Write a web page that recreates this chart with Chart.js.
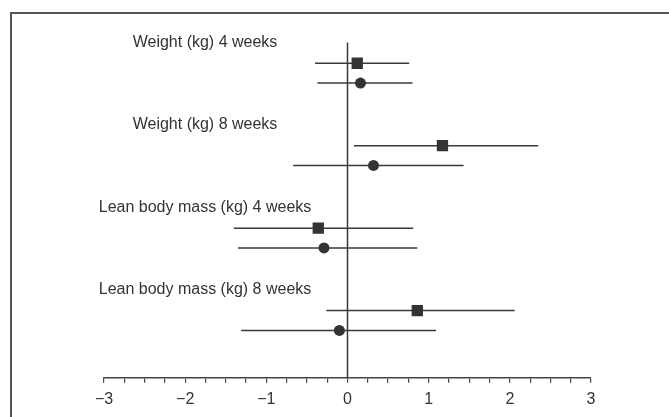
<!DOCTYPE html>
<html>
<head>
<meta charset="utf-8">
<script src="https://cdn.jsdelivr.net/npm/chart.js@4.4.0/dist/chart.umd.min.js"></script>
<style>
    html, body { margin: 0; padding: 0; background: #fff; }
    #wrap { position: relative; width: 669px; height: 417px; overflow: hidden; }
    #frame { position: absolute; left: 10px; top: 12px; right: 0; bottom: 0; border-top: 2px solid #555; border-left: 2px solid #555; }
    #forest { position: absolute; left: 0; top: 0; }
</style>
</head>
<body>
<div id="wrap">
    <div id="frame"></div>
    <canvas id="forest" width="669" height="417"></canvas>
</div>
<script>
// Outcomes and estimates (square / circle groups) with 95% CI
const outcomes = ['Weight (kg) 4 weeks', 'Weight (kg) 8 weeks', 'Lean body mass (kg) 4 weeks', 'Lean body mass (kg) 8 weeks'];
const squareMean = [0.12, 1.17, -0.36, 0.86];
const squareLow = [-0.40, 0.08, -1.40, -0.26];
const squareHigh = [0.76, 2.35, 0.81, 2.06];
const circleMean = [0.16, 0.32, -0.29, -0.10];
const circleLow = [-0.37, -0.67, -1.35, -1.31];
const circleHigh = [0.80, 1.43, 0.86, 1.09];
const tickValues = [-3, -2, -1, 0, 1, 2, 3];
const tickLabels = ['\u22123', '\u22122', '\u22121', '0', '1', '2', '3'];

const INK = '#333';
const FONT = '"Liberation Sans", Arial, sans-serif';

// row layout inside each outcome block
const labelOffset = -0.25;
const circleOffset = 0.24;

const datasets = [
    {
        label: 'square',
        data: outcomes.map((o, i) => ({ x: squareMean[i], y: i })),
        pointStyle: 'rect',
        pointRadius: 8,
        backgroundColor: INK,
        borderColor: INK,
        borderWidth: 0
    },
    {
        label: 'circle',
        data: outcomes.map((o, i) => ({ x: circleMean[i], y: i + circleOffset })),
        pointStyle: 'circle',
        pointRadius: 5.5,
        backgroundColor: INK,
        borderColor: INK,
        borderWidth: 0
    }
];

// confidence interval lines
outcomes.forEach((o, i) => {
    datasets.push({
        data: [{ x: squareLow[i], y: i }, { x: squareHigh[i], y: i }],
        showLine: true, pointRadius: 0, borderColor: '#3a3a3a', borderWidth: 1.5
    });
    datasets.push({
        data: [{ x: circleLow[i], y: i + circleOffset }, { x: circleHigh[i], y: i + circleOffset }],
        showLine: true, pointRadius: 0, borderColor: '#3a3a3a', borderWidth: 1.5
    });
});

// zero line + outcome labels
const forestExtras = {
    id: 'forestExtras',
    beforeDatasetsDraw(chart) {
        const { ctx, scales: { x, y }, chartArea } = chart;
        const px = x.getPixelForValue(0);
        ctx.save();
        ctx.strokeStyle = '#3a3a3a';
        ctx.lineWidth = 1.5;
        ctx.beginPath();
        ctx.moveTo(px, y.getPixelForValue(labelOffset));
        ctx.lineTo(px, chartArea.bottom);
        ctx.stroke();
        ctx.restore();
    },
    afterDatasetsDraw(chart) {
        const { ctx, scales: { y } } = chart;
        ctx.save();
        ctx.fillStyle = INK;
        ctx.font = '16px ' + FONT;
        ctx.textAlign = 'center';
        ctx.textBaseline = 'middle';
        outcomes.forEach((o, i) => {
            ctx.fillText(o, 205, y.getPixelForValue(i + labelOffset));
        });
        ctx.restore();
    }
};

new Chart(document.getElementById('forest'), {
    type: 'scatter',
    data: { datasets },
    options: {
        responsive: false,
        animation: false,
        layout: { padding: { left: 104, right: 78, top: 22, bottom: 1 } },
        plugins: { legend: { display: false }, tooltip: { enabled: false } },
        scales: {
            x: {
                type: 'linear',
                min: -3,
                max: 3,
                border: { display: true, color: '#444', width: 1.5 },
                grid: { drawOnChartArea: false, drawTicks: true, tickLength: 5, color: '#444', lineWidth: 1.2 },
                ticks: {
                    stepSize: 0.25,
                    autoSkip: false,
                    maxRotation: 0,
                    padding: 7,
                    color: INK,
                    font: { family: FONT, size: 16 },
                    callback: v => {
                        const k = tickValues.indexOf(v);
                        return k >= 0 ? tickLabels[k] : '';
                    }
                }
            },
            y: {
                type: 'linear',
                display: false,
                reverse: true,
                min: -0.5,
                max: 3.815
            }
        }
    },
    plugins: [forestExtras]
});
</script>
</body>
</html>
